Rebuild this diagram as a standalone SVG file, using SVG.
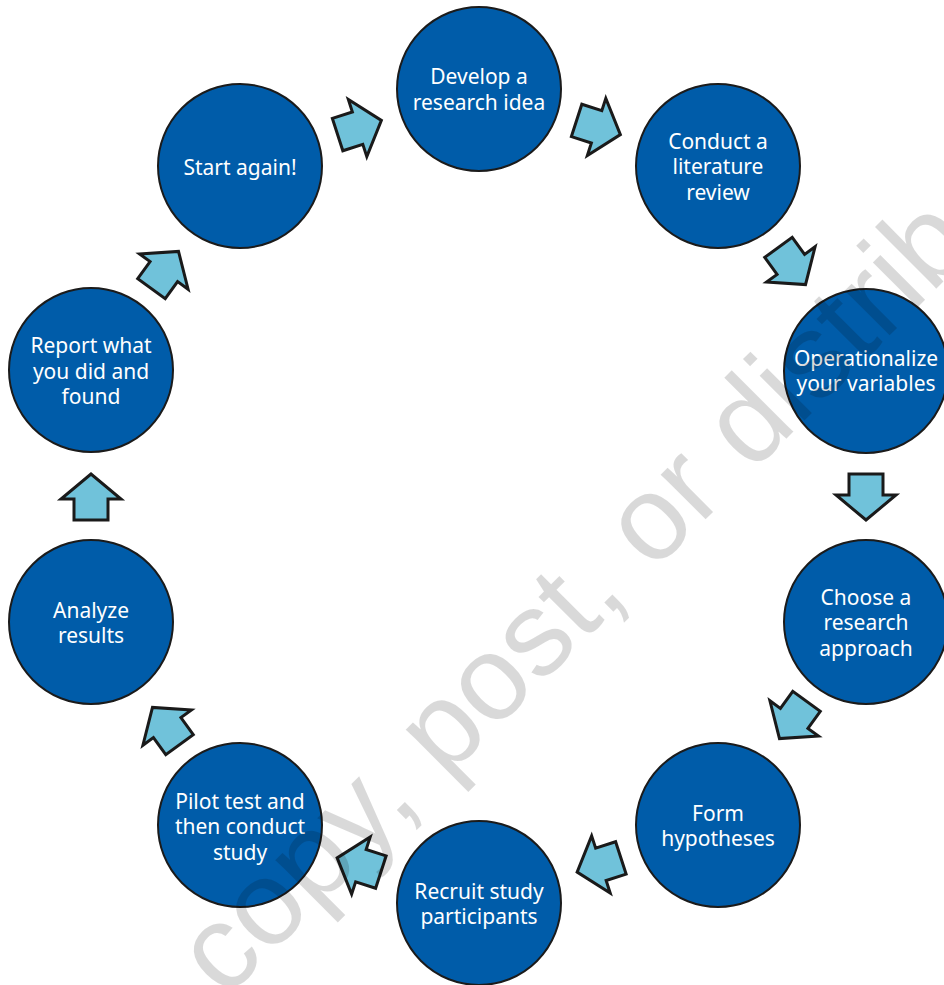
<svg xmlns="http://www.w3.org/2000/svg" width="944" height="985" viewBox="0 0 944 985">
<defs>
<style>
.node circle{fill:#005ca9;stroke:#1b1b1b;stroke-width:2}
.node text{fill:#fff;font-family:"Noto Sans","Open Sans","DejaVu Sans",sans-serif;font-size:21px;text-anchor:middle;dominant-baseline:central}
.arr{fill:#70c2da;stroke:#1a1a1a;stroke-width:3;stroke-linejoin:miter}
.wm{fill:#000;fill-opacity:0.15;font-family:"Liberation Sans",Arial,sans-serif;font-size:120px}
</style>
<polygon id="blk" points="-23,-17 -2,-17 -2,-30 23,0 -2,30 -2,17 -23,17"/>
</defs>
<rect width="944" height="985" fill="#fff"/>
<g id="connectors">
<use href="#blk" class="arr" transform="translate(359.5,127.5) rotate(-17.9)"/>
<use href="#blk" class="arr" transform="translate(598.5,127.5) rotate(17.9)"/>
<use href="#blk" class="arr" transform="translate(792,266) rotate(54)"/>
<use href="#blk" class="arr" transform="translate(866,497) rotate(90)"/>
<use href="#blk" class="arr" transform="translate(793,720) rotate(126)"/>
<use href="#blk" class="arr" transform="translate(599,865) rotate(162)"/>
<use href="#blk" class="arr" transform="translate(359,865) rotate(198)"/>
<use href="#blk" class="arr" transform="translate(166,726) rotate(234)"/>
<use href="#blk" class="arr" transform="translate(91,497) rotate(270)"/>
<use href="#blk" class="arr" transform="translate(165,270) rotate(306)"/>
</g>
<g id="n1" class="node"><circle cx="479" cy="89" r="82"/><text x="479" y="76">Develop a</text><text x="479" y="102">research idea</text></g>
<g id="n2" class="node"><circle cx="718" cy="166" r="82"/><text x="718" y="141">Conduct a</text><text x="718" y="166">literature</text><text x="718" y="192">review</text></g>
<g id="n3" class="node"><circle cx="866" cy="371" r="82"/><text x="866" y="358">Operationalize</text><text x="866" y="383">your variables</text></g>
<g id="n4" class="node"><circle cx="866" cy="622" r="82"/><text x="866" y="597">Choose a</text><text x="866" y="622">research</text><text x="866" y="648">approach</text></g>
<g id="n5" class="node"><circle cx="718" cy="825" r="82"/><text x="718" y="813">Form</text><text x="718" y="838">hypotheses</text></g>
<g id="n6" class="node"><circle cx="479" cy="903" r="82"/><text x="479" y="891">Recruit study</text><text x="479" y="916">participants</text></g>
<g id="n7" class="node"><circle cx="240" cy="825" r="82"/><text x="240" y="801">Pilot test and</text><text x="240" y="826">then conduct</text><text x="240" y="852">study</text></g>
<g id="n8" class="node"><circle cx="91" cy="622" r="82"/><text x="91" y="610">Analyze</text><text x="91" y="635">results</text></g>
<g id="n9" class="node"><circle cx="91" cy="370" r="82"/><text x="91" y="345">Report what</text><text x="91" y="371">you did and</text><text x="91" y="396">found</text></g>
<g id="n10" class="node"><circle cx="240" cy="166" r="82"/><text x="240" y="167">Start again!</text></g>
<text class="wm" transform="translate(225,1000) rotate(-45)">copy, post, or distrib</text>
</svg>
